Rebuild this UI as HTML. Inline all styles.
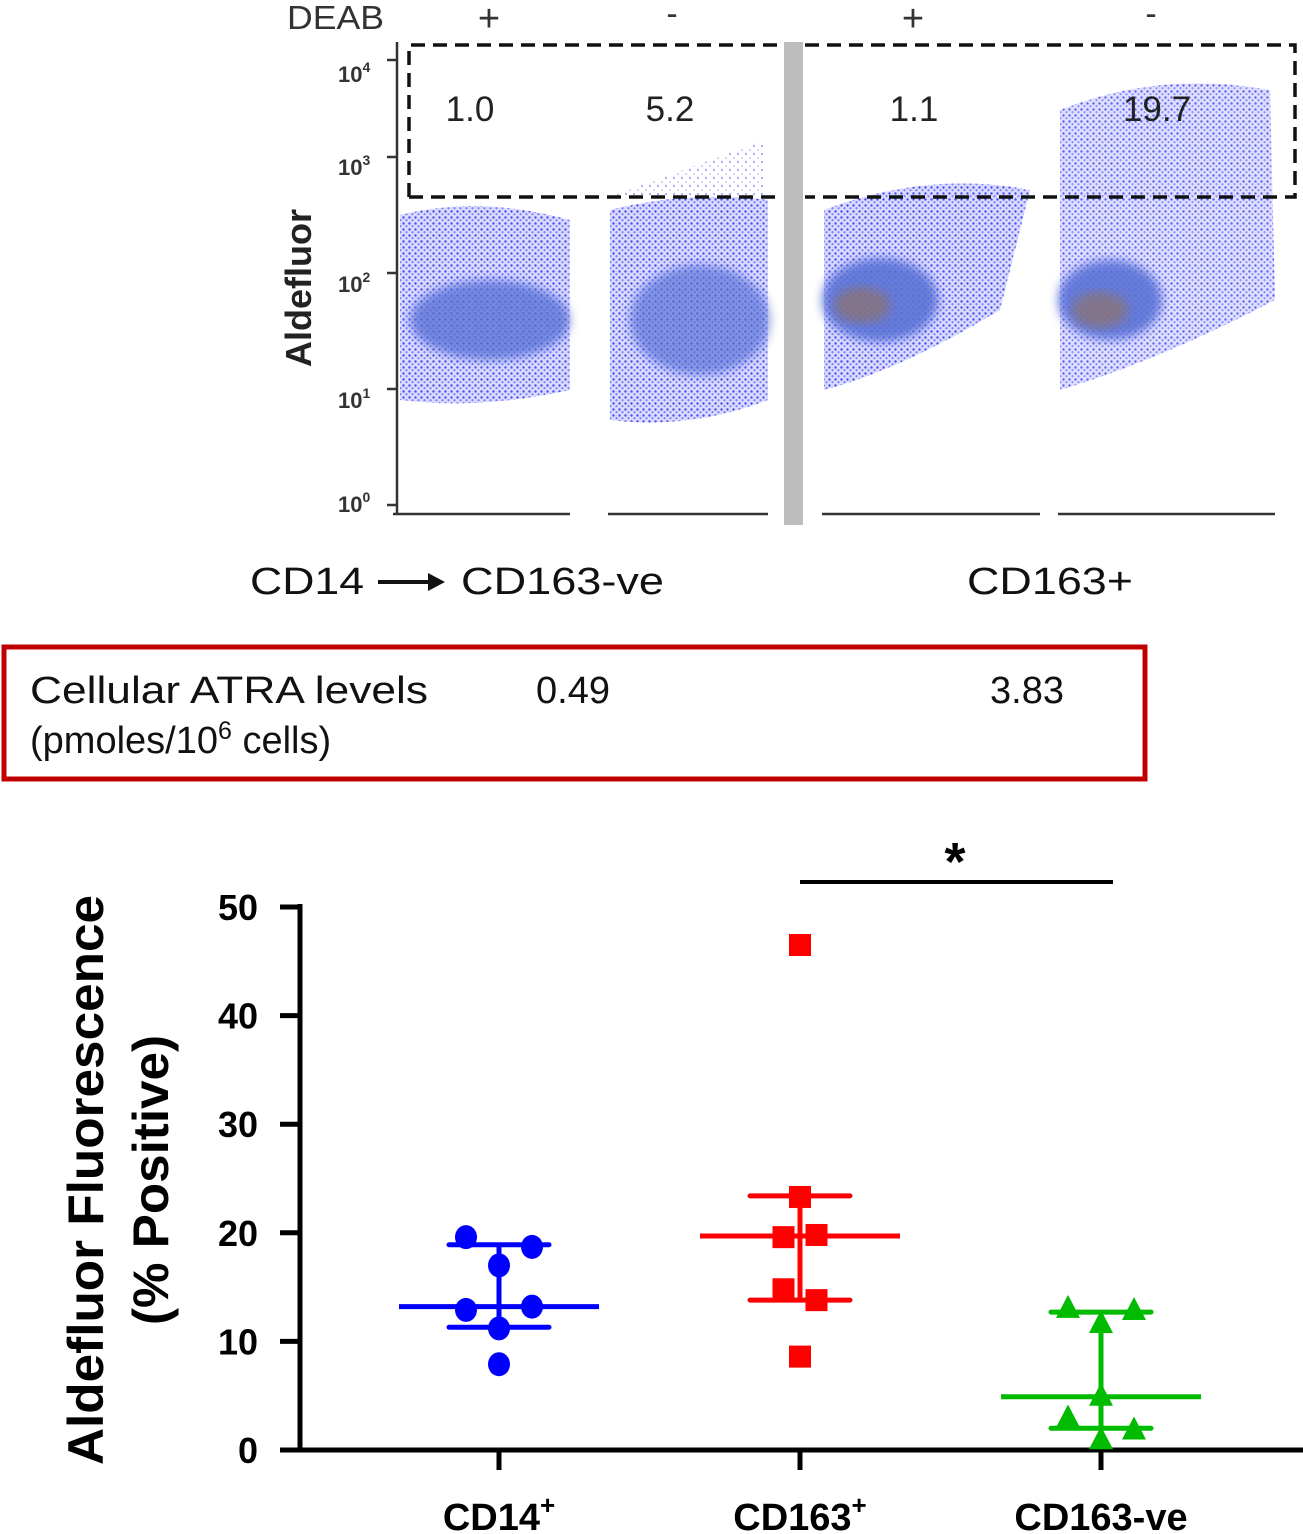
<!DOCTYPE html>
<html><head><meta charset="utf-8">
<style>
html,body{margin:0;padding:0;background:#fff;}
body{width:1303px;height:1534px;position:relative;overflow:hidden;font-family:"Liberation Sans",sans-serif;}
svg{position:absolute;left:0;top:0;}
</style></head>
<body>
<svg id="fig" width="1303" height="1534" viewBox="0 0 1303 1534">
<defs>
<pattern id="dotsB" width="6" height="6" patternUnits="userSpaceOnUse">
<rect width="6" height="6" fill="#d4d6ff"/>
<circle cx="1.5" cy="1.5" r="1.2" fill="#2a2ae8"/>
<circle cx="4.5" cy="4.2" r="1.1" fill="#6060ff"/>
</pattern>
<pattern id="dotsD" width="5" height="5" patternUnits="userSpaceOnUse">
<rect width="5" height="5" fill="#6a6ce8"/>
<circle cx="1.2" cy="1.4" r="1.1" fill="#1010c8"/>
<circle cx="3.8" cy="3.6" r="1" fill="#22c040"/>
</pattern>
<pattern id="dotsL" width="8" height="8" patternUnits="userSpaceOnUse">
<rect width="8" height="8" fill="#fff"/>
<circle cx="2" cy="2" r="1.1" fill="#6a6aff"/>
<circle cx="6" cy="6" r="1" fill="#9a9aff"/>
</pattern>
<filter id="blur4"><feGaussianBlur stdDeviation="5"/></filter>
</defs>

<g>
<text x="287" y="29" font-size="33" fill="#333" textLength="97" lengthAdjust="spacingAndGlyphs">DEAB</text>
<text x="489" y="31" font-size="38" fill="#333" text-anchor="middle">+</text>
<text x="672" y="25" font-size="34" fill="#333" text-anchor="middle">-</text>
<text x="913" y="31" font-size="38" fill="#333" text-anchor="middle">+</text>
<text x="1151" y="25" font-size="34" fill="#333" text-anchor="middle">-</text>

<text transform="translate(311,288) rotate(-90)" font-size="36" font-weight="bold" fill="#222" text-anchor="middle">Aldefluor</text>

<line x1="397" y1="42" x2="397" y2="515" stroke="#333" stroke-width="2.5"/>
<g font-size="22" fill="#333" font-weight="bold">
<text x="338" y="82">10<tspan dy="-10" font-size="14">4</tspan></text>
<text x="338" y="175">10<tspan dy="-10" font-size="14">3</tspan></text>
<text x="338" y="292">10<tspan dy="-10" font-size="14">2</tspan></text>
<text x="338" y="408">10<tspan dy="-10" font-size="14">1</tspan></text>
<text x="338" y="512">10<tspan dy="-10" font-size="14">0</tspan></text>
</g>
<g stroke="#333" stroke-width="2.5">
<line x1="387" y1="60" x2="397" y2="60"/><line x1="387" y1="157" x2="397" y2="157"/><line x1="387" y1="273" x2="397" y2="273"/><line x1="387" y1="389" x2="397" y2="389"/><line x1="387" y1="505" x2="397" y2="505"/>
</g>
<g stroke="#333" stroke-width="2.5">
<line x1="393" y1="514" x2="570" y2="514"/>
<line x1="608" y1="514" x2="768" y2="514"/>
<line x1="822" y1="514" x2="1040" y2="514"/>
<line x1="1058" y1="514" x2="1275" y2="514"/>
</g>
<rect x="784" y="42" width="19" height="483" fill="#bdbdbd"/>

<g>
<path d="M400 215 Q480 195 570 220 L570 390 Q480 410 400 400 Z" fill="url(#dotsB)" opacity="0.85"/>
<ellipse cx="490" cy="320" rx="80" ry="40" fill="url(#dotsD)" opacity="0.8" filter="url(#blur4)"/>
</g>
<g>
<path d="M610 210 Q690 190 768 200 L768 400 Q690 430 610 420 Z" fill="url(#dotsB)" opacity="0.85"/>
<ellipse cx="700" cy="320" rx="70" ry="55" fill="url(#dotsD)" opacity="0.7" filter="url(#blur4)"/>
<path d="M615 195 L765 140 L765 197 L615 197Z" fill="url(#dotsL)" opacity="0.6"/>
</g>
<g>
<path d="M824 210 Q930 170 1030 190 L1000 310 Q900 370 824 390 Z" fill="url(#dotsB)" opacity="0.85"/>
<ellipse cx="880" cy="300" rx="58" ry="42" fill="url(#dotsD)" opacity="0.9" filter="url(#blur4)"/>
<ellipse cx="862" cy="305" rx="28" ry="18" fill="#a07040" opacity="0.5" filter="url(#blur4)"/>
</g>
<g>
<path d="M1060 110 Q1160 70 1270 90 L1275 300 Q1160 360 1060 390 Z" fill="url(#dotsB)" opacity="0.75"/>
<ellipse cx="1110" cy="300" rx="52" ry="40" fill="url(#dotsD)" opacity="0.9" filter="url(#blur4)"/>
<ellipse cx="1100" cy="310" rx="28" ry="18" fill="#a07040" opacity="0.5" filter="url(#blur4)"/>
</g>

<g fill="none" stroke="#111" stroke-width="3.5" stroke-dasharray="14 8">
<path d="M409 197 L409 45 L783 45"/>
<line x1="409" y1="197" x2="783" y2="197"/>
<path d="M805 45 L1295 45 L1295 197 L805 197"/>
</g>
<g font-size="35" fill="#222" text-anchor="middle">
<text x="470" y="121">1.0</text>
<text x="670" y="121">5.2</text>
<text x="914" y="121">1.1</text>
<text x="1157" y="121">19.7</text>
</g>

<g font-size="38" fill="#111">
<text x="250" y="594" textLength="114" lengthAdjust="spacingAndGlyphs">CD14</text>
<line x1="378" y1="582" x2="432" y2="582" stroke="#111" stroke-width="4"/>
<polygon points="428,573 445,582 428,591" fill="#111"/>
<text x="461" y="594" textLength="203" lengthAdjust="spacingAndGlyphs">CD163-ve</text>
<text x="967" y="594" textLength="166" lengthAdjust="spacingAndGlyphs">CD163+</text>
</g>
</g>

<g>
<rect x="4" y="647" width="1141" height="132" fill="none" stroke="#c00000" stroke-width="5"/>
<text x="30" y="703" font-size="38" fill="#111" textLength="398" lengthAdjust="spacingAndGlyphs">Cellular ATRA levels</text>
<text x="30" y="753" font-size="38" fill="#111">(pmoles/10<tspan dy="-14" font-size="25">6</tspan><tspan dy="14"> cells)</tspan></text>
<text x="536" y="703" font-size="38" fill="#111">0.49</text>
<text x="990" y="703" font-size="38" fill="#111">3.83</text>
</g>

<g id="chart"></g>
</svg>

<script>
const categories = ["CD14", "CD163", "CD163-ve"];
const supLabels = ["+", "+", ""];
const cd14Values = [19.6, 18.7, 17.0, 12.9, 13.2, 11.2, 7.9];
const cd163Values = [46.5, 23.3, 19.6, 19.8, 14.8, 13.8, 8.6];
const cd163negValues = [13.0, 12.8, 11.6, 4.9, 2.9, 1.8, 0.9];
const medians = [13.2, 19.7, 4.9];
const lowerQ = [11.3, 13.8, 2.0];
const upperQ = [18.9, 23.4, 12.7];
const yTicks = [0, 10, 20, 30, 40, 50];
const jitterSlots = [[-1,1,0,-1,1,0,0],[0,0,-0.5,0.5,-0.5,0.5,0],[-1,1,0,0,-1,1,0]];

const NS = "http://www.w3.org/2000/svg";
const g = document.getElementById("chart");
const X0 = 300, Y0 = 1450, Ytop = 907;
const yScale = v => Y0 - (v / 50) * (Y0 - Ytop);
const xScale = i => 499 + i * 301;
const colors = ["#0000ff", "#ff0000", "#00bb00"];
const series = [cd14Values, cd163Values, cd163negValues];
const shapes = ["circle", "square", "triangle"];

function el(tag, attrs, parent) {
  const e = document.createElementNS(NS, tag);
  for (const k in attrs) e.setAttribute(k, attrs[k]);
  (parent || g).appendChild(e);
  return e;
}

const yAxis = el("line", {x1: X0, y1: Ytop - 3, x2: X0, y2: Y0 + 2, stroke: "#000", "stroke-width": 5});


const xAxis = el("line", {x1: X0 - 2, y1: Y0, x2: 1303, y2: Y0, stroke: "#000", "stroke-width": 5});



yTicks.forEach(t => {
  const y = yScale(t);
  const tl = el("line", {x1: X0 - 20, y1: y, x2: X0, y2: y, stroke: "#000", "stroke-width": 5});
  
  
  const tx = el("text", {x: X0 - 42, y: y + 13, "font-size": 36, "font-weight": "bold", "text-anchor": "end", fill: "#000"});
  tx.textContent = t;
  
  
});

const yt = el("text", {transform: "translate(103,1180) rotate(-90)", "font-size": 50, "font-weight": "bold", "text-anchor": "middle", fill: "#000", textLength: 570, lengthAdjust: "spacingAndGlyphs"});
yt.textContent = "Aldefluor Fluorescence";


const yt2 = el("text", {transform: "translate(168,1180) rotate(-90)", "font-size": 50, "font-weight": "bold", "text-anchor": "middle", fill: "#000", textLength: 290, lengthAdjust: "spacingAndGlyphs"});
yt2.textContent = "(% Positive)";



categories.forEach((c, i) => {
  const x = xScale(i);
  const tk = el("line", {x1: x, y1: Y0, x2: x, y2: Y0 + 20, stroke: "#000", "stroke-width": 5});
  
  
  const lb = el("text", {x: x, y: 1530, "font-size": 38, "font-weight": "bold", "text-anchor": "middle", fill: "#000"});
  lb.textContent = c;
  if (supLabels[i]) {
    const sp = el("tspan", {dy: -16, "font-size": 26}, lb);
    sp.textContent = supLabels[i];
  }
  
  
});

categories.forEach((c, i) => {
  const x = xScale(i), col = colors[i];
  const vl = el("line", {x1: x, y1: yScale(upperQ[i]), x2: x, y2: yScale(lowerQ[i]), stroke: col, "stroke-width": 5});
  
  
  [upperQ[i], lowerQ[i]].forEach(v => {
    const cap = el("line", {x1: x - 50, y1: yScale(v), x2: x + 50, y2: yScale(v), stroke: col, "stroke-width": 5, "stroke-linecap": "round"});
    
    
  });
  const md = el("line", {x1: x - 100, y1: yScale(medians[i]), x2: x + 100, y2: yScale(medians[i]), stroke: col, "stroke-width": 5});
  
  
});

series.forEach((vals, i) => {
  const col = colors[i];
  vals.forEach((v, j) => {
    const x = xScale(i) + jitterSlots[i][j] * 33, y = yScale(v);
    let p;
    if (shapes[i] === "circle") p = el("ellipse", {cx: x, cy: y, rx: 11, ry: 12, fill: col});
    else if (shapes[i] === "square") p = el("rect", {x: x - 11, y: y - 11, width: 22, height: 22, fill: col});
    else p = el("polygon", {points: `${x},${y - 14} ${x + 12},${y + 9} ${x - 12},${y + 9}`, fill: col});
    
    
  });
});

const sig = el("line", {x1: 800, y1: 882, x2: 1113, y2: 882, stroke: "#000", "stroke-width": 4});


const star = el("text", {x: 955, y: 880, "font-size": 54, "font-weight": "bold", "text-anchor": "middle", fill: "#000"});
star.textContent = "*";


</script>
</body></html>
